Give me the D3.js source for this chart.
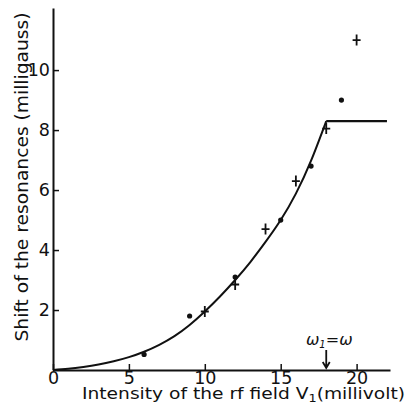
<!DOCTYPE html>
<html>
<head>
    <title>Shift of the resonances</title>
    <script src="https://d3js.org/d3.v7.min.js"></script>
    <style>
        body { margin: 0; background: #fff; }
        text { font-family: "DejaVu Sans", sans-serif; fill: #111; }
        .axis path, .axis line { stroke: #111; }
        .axis path { stroke-width: 2px; }
        .axis line { stroke-width: 1.5px; }
    </style>
</head>
<body>
    <svg width="411" height="419"></svg>

    <script>
        // curve drawn in the figure (rise, then plateau)
        const curveX = [0, 1, 2, 3, 4, 5, 6, 7, 8, 9, 10, 11, 12, 13, 14, 15, 16, 17, 18];
        const curveY = [0, 0.04, 0.1, 0.18, 0.29, 0.43, 0.61, 0.84, 1.13, 1.5, 1.95, 2.45, 3.0, 3.6, 4.27, 5.0, 5.88, 6.98, 8.3];
        const plateauX = [18, 22];
        const plateauY = [8.3, 8.3];

        // measured points: dots and crosses
        const dotX = [6, 9, 12, 15, 17, 19];
        const dotY = [0.52, 1.8, 3.1, 5.0, 6.8, 9.0];
        const crossX = [10, 12, 14, 16, 18, 20];
        const crossY = [1.95, 2.85, 4.7, 6.3, 8.05, 11.0];

        const xTicks = [0, 5, 10, 15, 20];
        const yTicks = [2, 4, 6, 8, 10];
        const omegaX = 18;

        const svg = d3.select("svg");
        const margin = {left: 53, top: 8, right: 21, bottom: 49};
        const width = 411 - margin.left - margin.right;
        const height = 419 - margin.top - margin.bottom;

        const x = d3.scaleLinear().domain([0, 22.2]).range([0, width]);
        const y = d3.scaleLinear().domain([0, 12.07]).range([height, 0]);

        const g = svg.append("g")
            .attr("transform", `translate(${margin.left},${margin.top})`);

        // axes, ticks pointing inward
        const xAxis = g.append("g")
            .attr("class", "axis")
            .attr("transform", `translate(0,${height})`)
            .call(d3.axisBottom(x).tickValues(xTicks).tickSizeInner(-6).tickSizeOuter(0).tickPadding(2));

        const yAxis = g.append("g")
            .attr("class", "axis")
            .call(d3.axisLeft(y).tickValues(yTicks).tickSizeInner(-6).tickSizeOuter(0).tickPadding(3));

        [xAxis, yAxis].forEach(a => a
            .attr("font-size", 17.5)
            .attr("font-family", "DejaVu Sans, sans-serif"));

        // fitted curve
        g.append("path")
            .datum(curveX.map((v, i) => [v, curveY[i]]))
            .attr("fill", "none")
            .attr("stroke", "#111")
            .attr("stroke-width", 2)
            .attr("d", d3.line()
                .x(d => x(d[0]))
                .y(d => y(d[1]))
                .curve(d3.curveNatural));

        g.append("path")
            .datum(plateauX.map((v, i) => [v, plateauY[i]]))
            .attr("fill", "none")
            .attr("stroke", "#111")
            .attr("stroke-width", 2.2)
            .attr("d", d3.line().x(d => x(d[0])).y(d => y(d[1])));

        // dots
        g.append("g")
            .selectAll("circle")
            .data(dotX.map((v, i) => [v, dotY[i]]))
            .enter().append("circle")
            .attr("cx", d => x(d[0]))
            .attr("cy", d => y(d[1]))
            .attr("r", 2.6)
            .attr("fill", "#111");

        // crosses
        g.append("g")
            .selectAll("path")
            .data(crossX.map((v, i) => [v, crossY[i]]))
            .enter().append("path")
            .attr("transform", d => `translate(${x(d[0])},${y(d[1])})`)
            .attr("d", "M-4,0H4M0,-5.5V5.5")
            .attr("stroke", "#111")
            .attr("stroke-width", 1.8)
            .attr("fill", "none");

        // arrow marking omega_1 = omega
        const ax = x(omegaX);
        g.append("path")
            .attr("d", `M${ax},${height - 20}V${height - 2}M${ax - 3.5},${height - 8}L${ax},${height - 2}L${ax + 3.5},${height - 8}`)
            .attr("stroke", "#111")
            .attr("stroke-width", 1.8)
            .attr("fill", "none");

        const om = g.append("text")
            .attr("x", ax + 3)
            .attr("y", height - 25)
            .attr("text-anchor", "middle")
            .style("font-size", "16px")
            .style("font-style", "italic");
        om.append("tspan").text("ω");
        om.append("tspan").text("1").style("font-size", "10px").attr("dy", 3);
        om.append("tspan").text("=ω").attr("dy", -3);

        // axis titles
        const xt = svg.append("text")
            .attr("x", 82)
            .attr("y", 399)
            .attr("textLength", 323)
            .attr("lengthAdjust", "spacingAndGlyphs")
            .style("font-size", "16px");
        xt.append("tspan").text("Intensity of the rf field  V");
        xt.append("tspan").text("1").style("font-size", "11px").attr("dy", 3);
        xt.append("tspan").text("(millivolt)").attr("dy", -3);

        svg.append("text")
            .attr("transform", "translate(28,177) rotate(-90)")
            .attr("text-anchor", "middle")
            .attr("textLength", 329)
            .attr("lengthAdjust", "spacingAndGlyphs")
            .style("font-size", "17px")
            .text("Shift  of  the resonances (milligauss)");
    </script>
</body>
</html>
